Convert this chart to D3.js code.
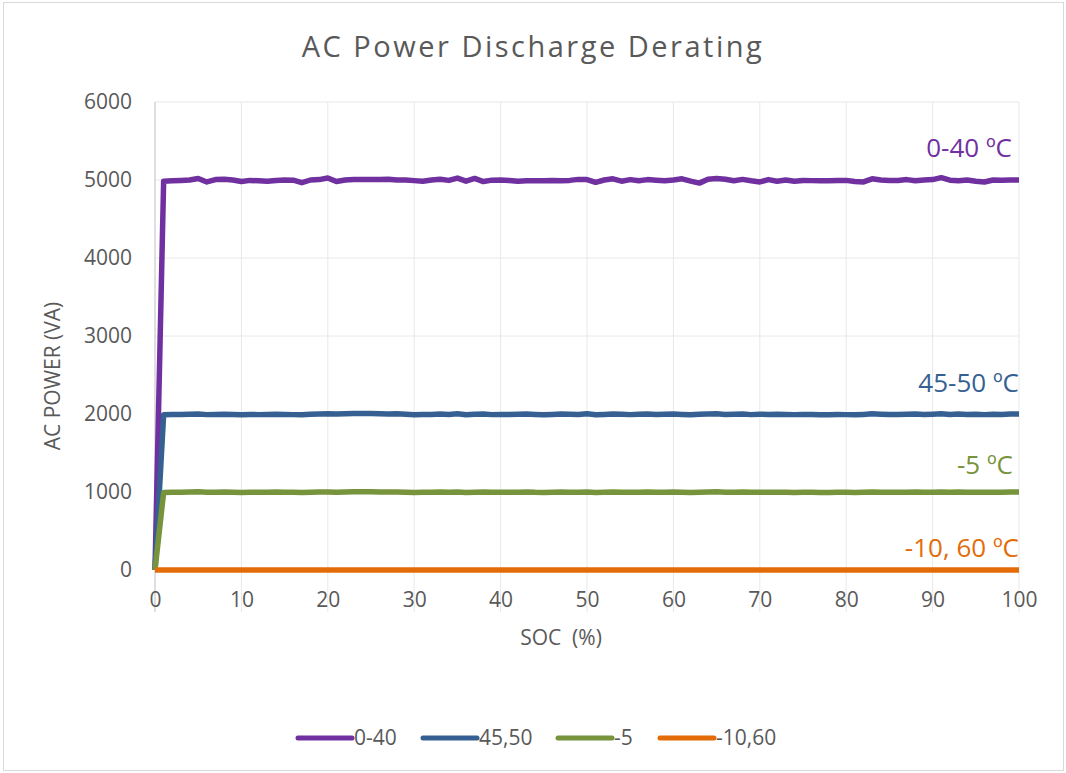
<!DOCTYPE html>
<html>
<head>
<meta charset="utf-8">
<script src="https://cdn.jsdelivr.net/npm/d3@7"></script>
<style>
  body { margin: 0; background: #fff; }
  text { font-family: "Open Sans", "Noto Sans", sans-serif; }
</style>
</head>
<body>
<div id="chart"></div>
<script>
// x positions (SOC %) for the measured series
let soc = d3.range(0, 101)

// readings, SOC 0..100
let range0_40 = [0,
  4985, 4990, 4995, 5000, 5020, 4975, 5005, 5010, 5000, 4980,
  4995, 4990, 4985, 4995, 5000, 4998, 4965, 5000, 5005, 5025,
  4980, 5000, 5005, 5008, 5005, 5005, 5010, 5000, 5000, 4992,
  4985, 5000, 5010, 4995, 5025, 4985, 5020, 4980, 4998, 5000,
  4995, 4985, 4990, 4990, 4990, 4992, 4990, 4995, 5008, 5005,
  4970, 5000, 5015, 4985, 5005, 4990, 5005, 4998, 4990, 5000,
  5015, 4985, 4960, 5010, 5020, 5010, 4990, 5008, 4990, 4975,
  5005, 4985, 5000, 4985, 4995, 4992, 4990, 4990, 4992, 4995,
  4980, 4975, 5015, 5000, 4995, 4995, 5005, 4990, 5000, 5005,
  5030, 4998, 4990, 5000, 4985, 4975, 5000, 4998, 5000, 5000]

let range45_50 = [0,
  1990, 1995, 1995, 1998, 2000, 1992, 1995, 1998, 1995, 1990,
  1995, 1992, 1995, 1998, 1995, 1992, 1990, 1998, 2000, 2002,
  2000, 2002, 2005, 2005, 2005, 2003, 2000, 2002, 1998, 1990,
  1995, 1995, 2000, 1995, 2002, 1990, 1998, 2000, 1992, 1995,
  1995, 1998, 2000, 1995, 1990, 1995, 2000, 1998, 1995, 2002,
  1990, 1995, 2000, 1998, 1992, 1998, 2000, 1995, 1998, 2000,
  1995, 1990, 1998, 2000, 2002, 1995, 1998, 2000, 1992, 1998,
  1995, 1998, 1995, 1992, 1995, 1995, 1990, 1990, 1995, 1992,
  1990, 1995, 2002, 1998, 1995, 1995, 1998, 2000, 1995, 1998,
  2002, 1995, 2000, 1995, 1998, 1992, 1998, 1995, 2000, 2000]

let range_5 = [0,
  995, 998, 998, 1000, 1002, 996, 998, 1000, 998, 995,
  998, 996, 998, 1000, 998, 996, 995, 998, 1000, 1000,
  998, 1000, 1002, 1002, 1002, 1000, 1000, 1000, 998, 995,
  998, 996, 1000, 998, 1000, 995, 998, 1000, 996, 998,
  998, 998, 1000, 996, 995, 998, 1000, 998, 996, 1000,
  995, 998, 1000, 998, 996, 998, 1000, 998, 998, 1000,
  998, 995, 998, 1000, 1002, 998, 998, 1000, 996, 998,
  998, 998, 996, 995, 998, 996, 995, 995, 998, 996,
  995, 998, 1000, 998, 996, 996, 998, 1000, 996, 998,
  1000, 998, 1000, 996, 998, 996, 998, 998, 1000, 1000]

let socFlat = [0, 100]
let range10_60 = [0, 0]

let legendNames = ["0-40", "45,50", "-5", "-10,60"]
let tagNames = ["0-40 \u00baC", "45-50 \u00baC", "-5 \u00baC", "-10, 60 \u00baC"]
let colors = ["#7030A0", "#376092", "#77933C", "#E36C09"]
let yTicks = [0, 1000, 2000, 3000, 4000, 5000, 6000]
let xTicks = [0, 10, 20, 30, 40, 50, 60, 70, 80, 90, 100]

let series = [
  { name: legendNames[0], tag: tagNames[0], color: colors[0], xs: soc, ys: range0_40 },
  { name: legendNames[1], tag: tagNames[1], color: colors[1], xs: soc, ys: range45_50 },
  { name: legendNames[2], tag: tagNames[2], color: colors[2], xs: soc, ys: range_5 },
  { name: legendNames[3], tag: tagNames[3], color: colors[3], xs: socFlat, ys: range10_60 }
]

const W = 1066, H = 773
var margin = { top: 102, right: 47, bottom: 203, left: 155 },
    width = W - margin.left - margin.right,
    height = H - margin.top - margin.bottom

let svg = d3.select("#chart")
    .append("svg")
    .attr("width", W)
    .attr("height", H)

// outer frame
svg.append("rect")
    .attr("x", 3.5).attr("y", 2.5)
    .attr("width", W - 6).attr("height", H - 5)
    .attr("fill", "#fff")
    .attr("stroke", "#d9d9d9")

svg.append("text")
    .attr("x", 533).attr("y", 57)
    .attr("text-anchor", "middle")
    .attr("fill", "#595959")
    .style("font-size", "29px")
    .style("letter-spacing", "2.5px")
    .text("AC Power Discharge Derating")

let g = svg.append("g")
    .attr("transform", "translate(" + margin.left + "," + margin.top + ")")

var x = d3.scaleLinear().domain([0, 100]).range([0, width])
var y = d3.scaleLinear().domain([0, 6000]).range([height, 0])

// gridlines
g.append("g")
    .selectAll("line")
    .data(yTicks.filter(d => d > 0))
    .join("line")
    .attr("x1", 0).attr("x2", width)
    .attr("y1", d => y(d)).attr("y2", d => y(d))
    .attr("stroke", "#e8e8e8")

g.append("g")
    .selectAll("line")
    .data(xTicks)
    .join("line")
    .attr("x1", d => x(d)).attr("x2", d => x(d))
    .attr("y1", 0).attr("y2", height + 42)
    .attr("stroke", d => d == 0 ? "#bfbfbf" : "#e8e8e8")

// axes (labels only)
var yAxis = g.append("g")
    .call(d3.axisLeft(y).tickValues(yTicks).tickFormat(d3.format("d")).tickSize(0).tickPadding(23))
var xAxis = g.append("g")
    .attr("transform", "translate(0," + height + ")")
    .call(d3.axisBottom(x).tickValues(xTicks).tickFormat(d3.format("d")).tickSize(0).tickPadding(22))

for (const ax of [xAxis, yAxis]) {
    ax.select(".domain").remove()
    ax.selectAll("text")
        .attr("fill", "#595959")
        .style("font-size", "21px")
        .style("font-family", "'Open Sans', sans-serif")
}

svg.append("text")
    .attr("transform", "rotate(-90)")
    .attr("x", -376).attr("y", 60)
    .attr("text-anchor", "middle")
    .attr("fill", "#595959")
    .style("font-size", "21px")
    .text("AC POWER (VA)")

svg.append("text")
    .attr("x", 561).attr("y", 645)
    .attr("text-anchor", "middle")
    .attr("fill", "#595959")
    .style("font-size", "21px")
    .style("white-space", "pre")
    .attr("xml:space", "preserve")
    .text("SOC  (%)")

// lines
var line = d3.line()
    .x(d => x(d[0]))
    .y(d => y(d[1]))

g.selectAll(".series")
    .data(series)
    .join("path")
    .attr("class", "series")
    .attr("d", s => line(s.xs.map((v, i) => [v, s.ys[i]])))
    .attr("fill", "none")
    .attr("stroke", s => s.color)
    .attr("stroke-width", 5.5)
    .attr("stroke-linejoin", "round")

// temperature tags at right end of each line
let tagPos = [[1012, 157], [1019, 392], [1013, 474], [1019, 557]]
series.forEach((s, i) => {
    svg.append("text")
        .attr("x", tagPos[i][0]).attr("y", tagPos[i][1])
        .attr("text-anchor", "end")
        .attr("fill", s.color)
        .style("font-size", "26px")
        .text(s.tag)
})

// legend
let legX = [298, 423, 558, 660]
let leg = svg.append("g")
series.forEach((s, i) => {
    leg.append("line")
        .attr("x1", legX[i]).attr("x2", legX[i] + 54)
        .attr("y1", 738).attr("y2", 738)
        .attr("stroke", s.color)
        .attr("stroke-width", 5)
        .attr("stroke-linecap", "round")
    leg.append("text")
        .attr("x", legX[i] + 56).attr("y", 745)
        .attr("fill", "#595959")
        .style("font-size", "21px")
        .text(s.name)
})
</script>
</body>
</html>
